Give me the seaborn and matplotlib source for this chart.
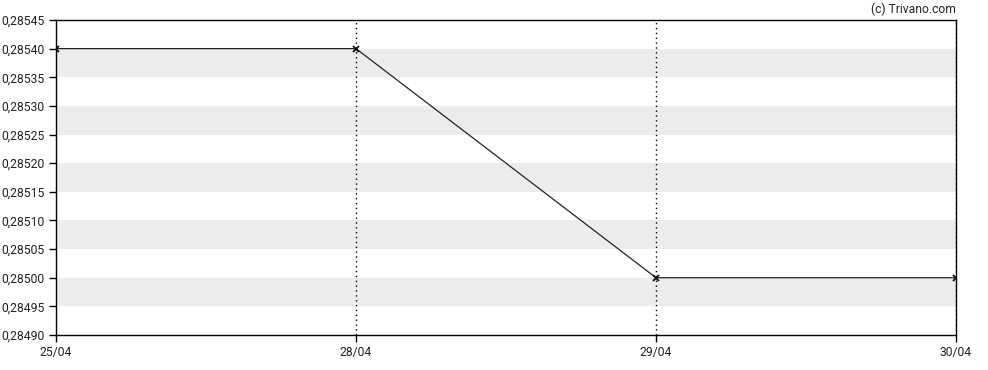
import matplotlib
matplotlib.use("Agg")
import matplotlib.pyplot as plt
import seaborn as sns
import pandas as pd
from matplotlib.ticker import FuncFormatter, MultipleLocator

dates = ["25/04", "28/04", "29/04", "30/04"]
prices = [0.28540, 0.28540, 0.28500, 0.28500]

sns.set_style("white")
plt.rcParams['font.family'] = ['Roboto', 'DejaVu Sans']

df = pd.DataFrame({"idx": range(len(dates)), "price": prices})

fig = plt.figure(figsize=(9.88, 3.70), dpi=100)
ax = fig.add_axes([56/988, 1-335/370, 900/988, 315/370])

ymin, ymax, step = 0.28490, 0.28545, 0.00005
# alternating bands
k = 0
y = ymin
while y < ymax - 1e-12:
    if k % 2 == 1:
        ax.axhspan(y, y + step, color="#ececec", lw=0, zorder=0)
    y += step
    k += 1

for i in range(1, len(dates)):
    ax.axvline(i, color="black", ls=(0, (1, 2.5)), lw=1.0, zorder=1)

sns.lineplot(data=df, x="idx", y="price", ax=ax, color="#222222", lw=0.9,
             marker="x", markersize=4, markeredgewidth=1.3, markeredgecolor="#111111", zorder=3)

ax.set_xlim(0, len(dates) - 1)
ax.set_ylim(ymin, ymax)
ax.yaxis.set_major_locator(MultipleLocator(step))
ax.yaxis.set_major_formatter(FuncFormatter(lambda v, p: f"{v:.5f}".replace(".", ",")))
ax.set_xticks(range(len(dates)))
ax.set_xticklabels(dates)
ax.set_xlabel("")
ax.set_ylabel("")
ax.tick_params(axis="both", which="major", direction="out", length=5, width=1,
               color="black", labelsize=8.7, labelcolor="#222222", left=True, bottom=True, pad=3)
for s in ax.spines.values():
    s.set_visible(True)
    s.set_color("black")
    s.set_linewidth(1)

fig.text(956/988, 1-9/370, "(c) Trivano.com", ha="right", va="center", fontsize=8.7, color="#222222")

fig.savefig("out.png", dpi=100)
